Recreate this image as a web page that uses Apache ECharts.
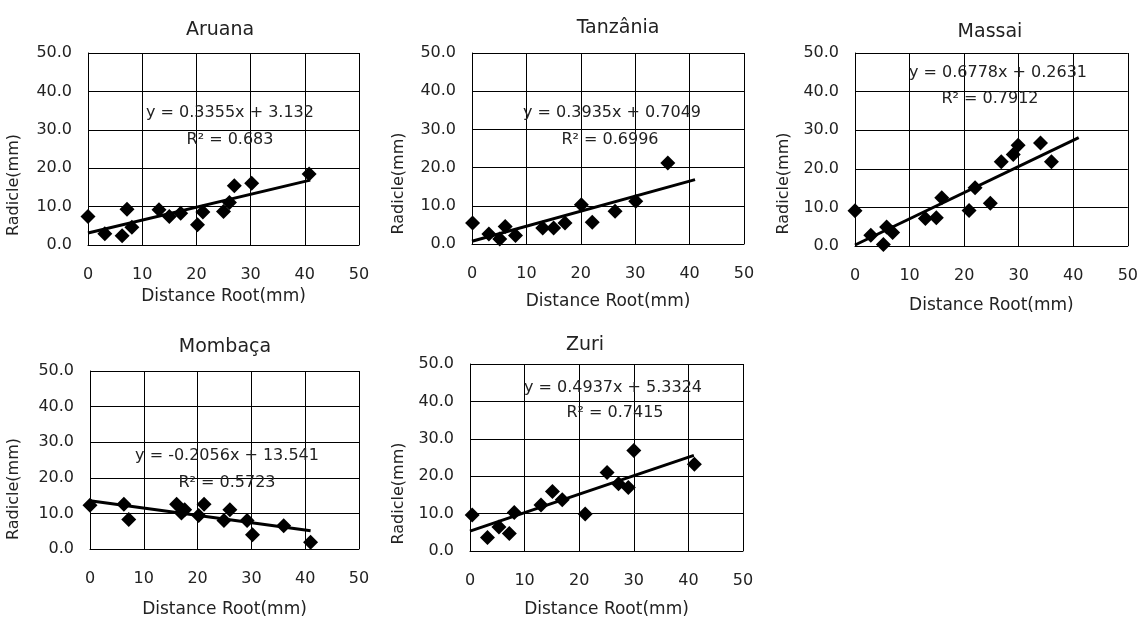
<!DOCTYPE html>
<html>
<head>
<meta charset="utf-8">
<script src="https://cdn.jsdelivr.net/npm/echarts@6/dist/echarts.min.js"></script>
<style>
html, body { margin: 0; padding: 0; background: #fff; }
#chart { width: 1141px; height: 619px; }
</style>
</head>
<body>
<div id="chart"></div>
<script>
// panel names
const cultivars = ['Aruana', 'Tanzânia', 'Massai', 'Mombaça', 'Zuri'];

// distance root (mm) / radicle (mm) per cultivar
const aruanaX = [0, 3.1, 6.3, 7.2, 8.1, 13.1, 15.0, 17.1, 20.2, 21.2, 25.0, 26.1, 27.0, 30.2, 40.8];
const aruanaY = [7.4, 2.9, 2.4, 9.3, 4.6, 9.2, 7.4, 8.3, 5.3, 8.6, 8.7, 11.1, 15.4, 16.1, 18.5];

const tanzaniaX = [0.1, 3.1, 5.1, 6.1, 8.0, 13.0, 15.0, 17.1, 20.1, 22.1, 26.3, 30.1, 36.0];
const tanzaniaY = [5.5, 2.6, 1.3, 4.6, 2.2, 4.2, 4.2, 5.5, 10.3, 5.7, 8.6, 11.2, 21.2];

const massaiX = [0, 2.9, 5.2, 5.8, 6.9, 12.9, 14.9, 15.9, 20.9, 22.0, 24.8, 26.8, 29.0, 29.9, 34.0, 36.0];
const massaiY = [9.1, 2.8, 0.4, 4.9, 3.5, 7.1, 7.3, 12.5, 9.2, 15.1, 11.1, 21.8, 23.7, 26.1, 26.7, 21.8];

const mombacaX = [0, 6.3, 7.2, 16.1, 17.0, 17.6, 20.2, 21.2, 24.9, 26.0, 29.2, 30.2, 36.0, 41.0];
const mombacaY = [12.3, 12.6, 8.3, 12.6, 10.1, 11.0, 9.4, 12.6, 8.0, 11.0, 8.0, 4.0, 6.5, 1.9];

const zuriX = [0.4, 3.2, 5.3, 7.2, 8.1, 13.0, 15.1, 16.9, 21.1, 25.1, 27.2, 29.0, 30.0, 41.1];
const zuriY = [9.6, 3.6, 6.4, 4.7, 10.3, 12.3, 15.9, 13.7, 9.9, 21.0, 18.0, 17.0, 26.9, 23.2];

// linear trendlines as printed on the chart
const slopes = [0.3355, 0.3935, 0.6778, -0.2056, 0.4937];
const intercepts = [3.132, 0.7049, 0.2631, 13.541, 5.3324];
const eqLabels = ['y = 0.3355x + 3.132', 'y = 0.3935x + 0.7049', 'y = 0.6778x + 0.2631', 'y = -0.2056x + 13.541', 'y = 0.4937x + 5.3324'];
const r2Labels = ['R² = 0.683', 'R² = 0.6996', 'R² = 0.7912', 'R² = 0.5723', 'R² = 0.7415'];
const trendStart = 0;
const trendEnd = 41;

const xTicks = [0, 10, 20, 30, 40, 50];
const yTicks = [0, 10, 20, 30, 40, 50];

const xs = [aruanaX, tanzaniaX, massaiX, mombacaX, zuriX];
const ys = [aruanaY, tanzaniaY, massaiY, mombacaY, zuriY];

// layout (pixels)
const grids = [
    { left: 88, top: 53, width: 271, height: 192 },
    { left: 472, top: 53, width: 272, height: 191 },
    { left: 855, top: 53, width: 273, height: 193 },
    { left: 90, top: 371, width: 269, height: 187 },
    { left: 470, top: 364, width: 273, height: 194 }
];
const titlePos = [[220, 30], [618, 28], [990, 32], [225, 347], [585, 345]];
const eqPos = [[230, 113], [612, 113], [998, 73], [227, 456], [613, 388]];
const r2Pos = [[230, 140], [610, 140], [990, 99], [227, 483], [615, 413]];
const xNameGap = [43, 49, 51, 52, 50];
const yNameGap = [66, 65, 63, 68, 63];
const yNameShift = [72, 70, 68, 58, 72];

const font = 'DejaVu Sans, sans-serif';
const ink = '#222';

const chart = echarts.init(document.getElementById('chart'));

let xAxis = [], yAxis = [], series = [], graphic = [];
cultivars.forEach((name, i) => {
    xAxis.push({
        gridIndex: i,
        type: 'value',
        min: xTicks[0],
        max: xTicks[xTicks.length - 1],
        interval: xTicks[1] - xTicks[0],
        name: 'Distance Root(mm)',
        nameLocation: 'middle',
        nameGap: xNameGap[i],
        nameTextStyle: { color: ink, fontSize: 17, fontFamily: font },
        axisLine: { show: true, onZero: false, lineStyle: { color: '#000', width: 1 } },
        axisTick: { show: false },
        axisLabel: { color: ink, fontSize: 16, fontFamily: font, margin: 22 },
        splitLine: { show: true, lineStyle: { color: '#000', width: 1 } }
    });
    yAxis.push({
        gridIndex: i,
        type: 'value',
        min: yTicks[0],
        max: yTicks[yTicks.length - 1],
        interval: yTicks[1] - yTicks[0],
        name: 'Radicle(mm)',
        nameLocation: 'middle',
        nameGap: yNameGap[i],
        nameTextStyle: { color: ink, fontSize: 16, fontFamily: font, padding: [0, yNameShift[i], 0, 0] },
        axisLine: { show: true, lineStyle: { color: '#000', width: 1 } },
        axisTick: { show: false },
        axisLabel: { color: ink, fontSize: 16, fontFamily: font, margin: 16, formatter: v => v.toFixed(1) },
        splitLine: { show: true, lineStyle: { color: '#000', width: 1 } }
    });
    series.push({
        type: 'scatter',
        xAxisIndex: i,
        yAxisIndex: i,
        symbol: 'diamond',
        symbolSize: 15,
        itemStyle: { color: '#000', opacity: 1 },
        data: xs[i].map((x, j) => [x, ys[i][j]]),
        z: 3
    });
    series.push({
        type: 'line',
        xAxisIndex: i,
        yAxisIndex: i,
        symbol: 'none',
        lineStyle: { color: '#000', width: 3 },
        data: [
            [trendStart, slopes[i] * trendStart + intercepts[i]],
            [trendEnd, slopes[i] * trendEnd + intercepts[i]]
        ],
        z: 4
    });
    graphic.push({
        type: 'text', x: titlePos[i][0], y: titlePos[i][1],
        style: { text: name, fill: ink, font: '19px ' + font, align: 'center', verticalAlign: 'middle' }
    });
    graphic.push({
        type: 'text', x: eqPos[i][0], y: eqPos[i][1], z: 10,
        style: { text: eqLabels[i], fill: ink, font: '16px ' + font, align: 'center', verticalAlign: 'middle' }
    });
    graphic.push({
        type: 'text', x: r2Pos[i][0], y: r2Pos[i][1], z: 10,
        style: { text: r2Labels[i], fill: ink, font: '16px ' + font, align: 'center', verticalAlign: 'middle' }
    });
});

chart.setOption({
    backgroundColor: '#fff',
    animation: false,
    grid: grids,
    xAxis: xAxis,
    yAxis: yAxis,
    series: series,
    graphic: graphic
});
</script>
</body>
</html>
